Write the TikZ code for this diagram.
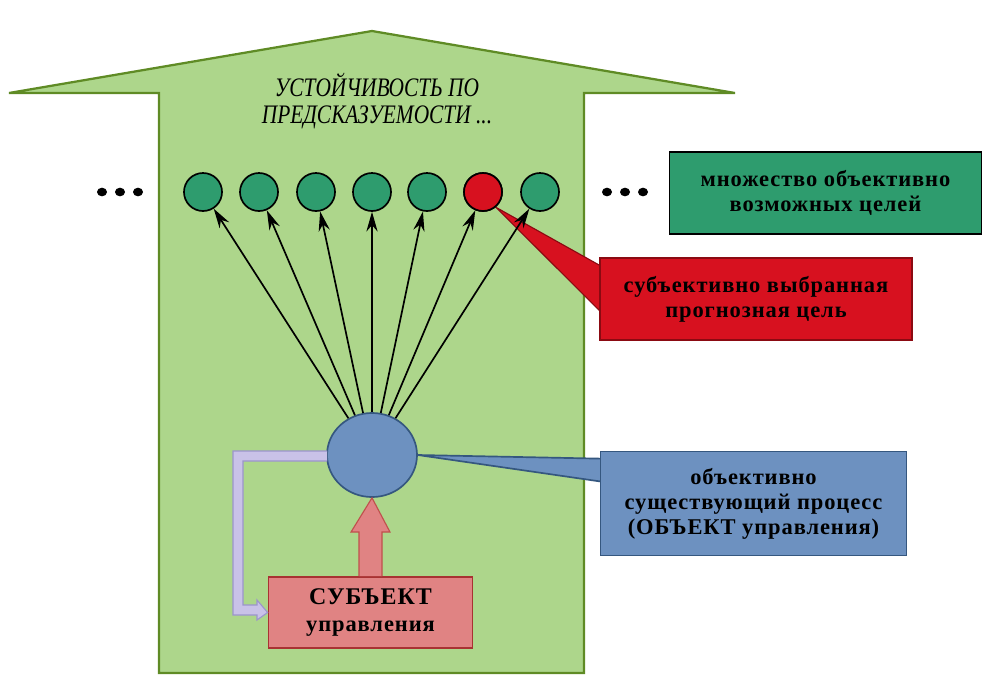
\documentclass[tikz,border=0pt]{standalone}
\usepackage{fontspec}
\setmainfont{Liberation Serif}
\usepackage{tikz}
\usetikzlibrary{shapes.geometric, arrows.meta, positioning, calc, backgrounds}
\definecolor{liftgreen}{HTML}{ADD68B}
\definecolor{liftborder}{HTML}{5F8B25}
\definecolor{goalgreen}{HTML}{2E9C6E}
\definecolor{chosenred}{HTML}{D7111F}
\definecolor{chosenborder}{HTML}{8B0A12}
\definecolor{procblue}{HTML}{6D91C0}
\definecolor{procborder}{HTML}{35577F}
\definecolor{subjred}{HTML}{E08383}
\definecolor{subjborder}{HTML}{A83232}
\definecolor{pushred}{HTML}{C0504D}
\definecolor{loopfill}{HTML}{C9C2E8}
\definecolor{loopborder}{HTML}{9C95CC}

\begin{document}
\begin{tikzpicture}[x=0.025cm, y=-0.025cm,
  goal/.style={circle, draw=black, line width=1.2pt, fill=goalgreen, minimum size=0.95cm, inner sep=0pt},
  fan/.style={-{Stealth[length=14pt, width=8pt]}, line width=1.2pt},
  label box/.style={draw, line width=1.2pt, align=center, inner sep=0pt,
    font=\bfseries\addfontfeatures{LetterSpace=4}\fontsize{16}{17.8}\selectfont},
  dotmark/.style={fill=black}]
  \useasboundingbox (0,0) rectangle (1000,693);

  % Big arrow (background)
  \begin{scope}[on background layer]
    \fill[liftgreen, draw=liftborder, line width=1.6pt]
      (159,673) -- (159,93) -- (9,93) -- (372,31) -- (735,93) -- (584,93) -- (584,673) -- cycle;
  \end{scope}
  \node[font=\itshape\fontsize{19}{19}\selectfont, align=center, transform shape, xscale=0.8] (title) at (377,101)
    {УСТОЙЧИВОСТЬ ПО\\ПРЕДСКАЗУЕМОСТИ ...};

  % Goals
  \foreach \x [count=\i] in {203,259,316,372,427,483,540}
    \node[goal] (g\i) at (\x,192) {};
  \node[goal, fill=chosenred] at (g6) {};

  % Ellipsis dots
  \foreach \x in {102,120,138,607,625,643}
    \fill[dotmark] (\x,192) ellipse (5 and 4.3);

  % Process and subject
  \node[ellipse, draw=procborder, line width=1.2pt, fill=procblue, minimum width=2.25cm, minimum height=2.1cm, inner sep=0pt] (proc) at (372,455) {};
  \node[label box, draw=subjborder, fill=subjred, minimum width=5.1cm, minimum height=1.78cm] (subj) at (370.5,612.5)
    {{\fontsize{17}{18}\selectfont СУБЪЕКТ}\\[2pt]управления};

  % Callout boxes
  \node[label box, draw=black, fill=goalgreen, minimum width=7.8cm, minimum height=2.05cm] (goalset) at (825.5,193)
    {множество объективно\\возможных целей};
  \node[label box, draw=chosenborder, fill=chosenred, minimum width=7.8cm, minimum height=2.05cm] (chosen) at (756,299)
    {субъективно выбранная\\прогнозная цель};
  \node[label box, draw=procborder, fill=procblue, minimum width=7.65cm, minimum height=2.6cm] (procbox) at (753.5,503.5)
    {объективно\\существующий процесс\\(ОБЪЕКТ управления)};

  \begin{scope}[on background layer]
    % callout wedges
    \fill[chosenred, draw=chosenborder, line width=0.8pt]
      (g6.-50) -- ($(chosen.north west)+(2,9)$) -- ($(chosen.north west)+(2,55)$) -- cycle;
    \fill[procblue, draw=procborder, line width=1.2pt]
      (proc.east) -- ($(procbox.north west)+(2,8)$) -- ($(procbox.north west)+(2,31)$) -- cycle;
  \end{scope}

  % Fan of arrows to goals
  \foreach \i in {1,...,7}
    \draw[fan] (proc) -- (g\i);

  % Control push arrow
  \fill[subjred, draw=pushred, line width=0.8pt]
    ($(subj.north)+(-11.5,0)$) -- ++(0,-44) -- ++(-8,0) -- (proc.south) -- ($(subj.north)+(19.5,-44)$)
    -- ++(-8,0) -- ($(subj.north)+(11.5,0)$);

  % Feedback loop arrow
  \fill[loopfill, draw=loopborder, line width=0.8pt]
    ($(proc.west)+(1,-4)$) -- (233,451) -- (233,615) -- (257,615) -- (257,620) -- (subj.west)
    -- (257,600) -- (257,605) -- (243,605) -- (243,461) -- ($(proc.west)+(1,6)$);
\end{tikzpicture}
\end{document}
